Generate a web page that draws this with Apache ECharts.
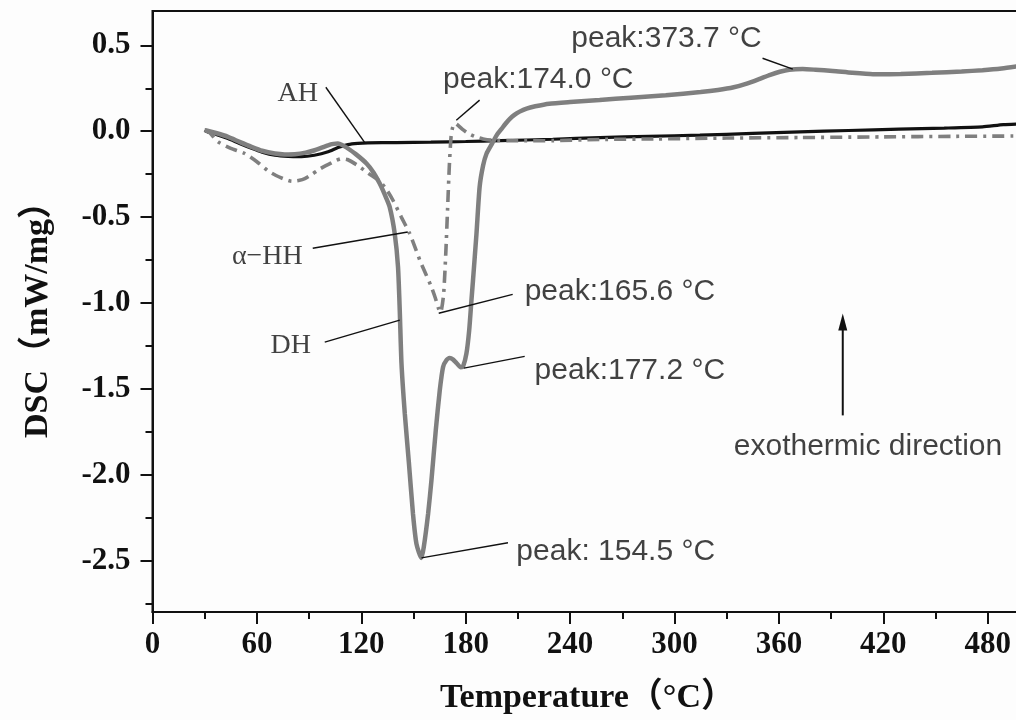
<!DOCTYPE html>
<html>
<head>
<meta charset="utf-8">
<script src="https://cdn.jsdelivr.net/npm/echarts@6/dist/echarts.min.js"></script>
<style>
  html, body { margin: 0; padding: 0; background: #fdfdfd; }
  #chart { width: 1016px; height: 720px; }
</style>
</head>
<body>
<div id="chart"></div>
<script>
// Axis ticks: temperature (°C) and heat flow (mW/mg)
const tempTicks = [0, 60, 120, 180, 240, 300, 360, 420, 480];
const tempMinorTicks = [30, 90, 150, 210, 270, 330, 390, 450];
const dscTicks = [-2.5, -2.0, -1.5, -1.0, -0.5, 0.0, 0.5];
const dscMinorTicks = [-2.75, -2.25, -1.75, -1.25, -0.75, -0.25, 0.25];

// DSC curves: [temperature °C, heat flow mW/mg]
const ahCurve = [
  [30, 0.005], [31, -0.002], [37, -0.02], [43.4, -0.043], [50, -0.072], [56.9, -0.1],
  [63, -0.122], [70.3, -0.14], [78, -0.147], [85.6, -0.148], [93, -0.14], [100.9, -0.12],
  [106.6, -0.095], [112.3, -0.078], [118, -0.071], [123.8, -0.068], [140, -0.066],
  [160, -0.064], [180, -0.06], [200, -0.055], [230, -0.047], [257, -0.037], [285, -0.03],
  [314.6, -0.023], [345, -0.013], [372, -0.004], [400, 0.004], [429, 0.012], [455, 0.018],
  [477, 0.025], [489, 0.038], [500, 0.042]
];
const alphaHHCurve = [
  [30, 0.008], [33, -0.01], [37.7, -0.062], [45, -0.1], [53, -0.13], [60, -0.178],
  [66.4, -0.231], [71, -0.258], [76, -0.28], [80, -0.292], [84.5, -0.286], [87.5, -0.276],
  [91, -0.255], [95.1, -0.227], [98.8, -0.205], [102.8, -0.185], [105.5, -0.17],
  [108.6, -0.16], [112, -0.165], [118, -0.2], [124, -0.245], [130.6, -0.29], [134.5, -0.34],
  [138.2, -0.402], [143, -0.5], [147.8, -0.596], [151, -0.68], [154, -0.76], [157, -0.83],
  [160, -0.9], [162.5, -0.97], [164.3, -1.03], [165.6, -1.055], [167.3, -0.95],
  [168.6, -0.7], [169.6, -0.45], [170.6, -0.2], [171.6, -0.03], [172.6, 0.025],
  [174.0, 0.045], [175.5, 0.035], [178, 0.012], [181, -0.01], [185, -0.03], [190, -0.045],
  [195, -0.052], [210, -0.056], [230, -0.055], [257, -0.048], [290, -0.045], [330, -0.04],
  [372, -0.037], [420, -0.033], [460, -0.03], [500, -0.028]
];
const dhCurve = [
  [30, 0.005], [31, 0.004], [37, -0.012], [43.4, -0.033], [50, -0.062], [56.9, -0.091],
  [63, -0.114], [70.3, -0.13], [76, -0.135], [81.8, -0.134], [88, -0.125], [93.2, -0.111],
  [100.9, -0.082], [104, -0.074], [106.6, -0.072], [109, -0.08], [111.5, -0.095],
  [117, -0.135], [123, -0.188], [127, -0.24], [130.6, -0.305], [133.5, -0.37],
  [136.3, -0.441], [139.2, -0.596], [141.1, -0.79], [142.1, -1.043], [143.1, -1.354],
  [145, -1.645], [147.4, -1.937], [149.7, -2.228], [151.7, -2.403], [154.5, -2.485],
  [155.9, -2.422], [158.4, -2.228], [160.3, -2.034], [162.8, -1.742], [165.1, -1.509],
  [167, -1.373], [168.9, -1.334], [170.8, -1.321], [172.8, -1.33], [174.7, -1.35],
  [177.2, -1.375], [178.5, -1.37], [180.4, -1.296], [182, -1.16], [183.3, -0.985],
  [184.2, -0.868], [186.2, -0.596], [188, -0.325], [190, -0.2], [192, -0.13],
  [195, -0.075], [198, -0.02], [200.5, 0.012], [203, 0.045], [205.5, 0.073], [208, 0.095],
  [211, 0.114], [215, 0.132], [220, 0.145], [228, 0.16], [240, 0.17], [257, 0.182],
  [275, 0.195], [295, 0.21], [315, 0.228], [325, 0.24], [334, 0.256], [342, 0.279],
  [349, 0.305], [355, 0.328], [360.5, 0.346], [366, 0.358], [373.7, 0.362], [381, 0.358],
  [391, 0.351], [402, 0.34], [414, 0.332], [430, 0.333], [448, 0.34], [465, 0.348],
  [477, 0.355], [488, 0.365], [500, 0.382]
];

// Peak temperatures written beside the curves
const peakTemps = [174.0, 373.7, 165.6, 177.2, 154.5];
const peakTexts = ['peak:174.0 °C', 'peak:373.7 °C', 'peak:165.6 °C', 'peak:177.2 °C', 'peak: 154.5 °C'];
const curveNames = ['AH', 'α−HH', 'DH'];

const SERIF = "'Liberation Serif', 'Times New Roman', 'Noto Sans CJK SC', serif";
const SANS = "'Liberation Sans', Arial, sans-serif";
const INK = '#111';
const GREY = '#7f7f7f';

// Label placements in data space: [temperature, value]
const textItems = [
  { text: curveNames[0], at: [83.5, 0.221], font: SERIF, size: 28, align: 'center' },
  { text: curveNames[1], at: [66, -0.733], font: SERIF, size: 28, align: 'center' },
  { text: curveNames[2], at: [79.5, -1.247], font: SERIF, size: 28, align: 'center' },
  { text: peakTexts[0], at: [167, 0.297], font: SANS, size: 30, align: 'left' },
  { text: peakTexts[1], at: [240.7, 0.536], font: SANS, size: 30, align: 'left' },
  { text: peakTexts[2], at: [213.9, -0.936], font: SANS, size: 30, align: 'left' },
  { text: peakTexts[3], at: [219.6, -1.393], font: SANS, size: 30, align: 'left' },
  { text: peakTexts[4], at: [209.1, -2.448], font: SANS, size: 30, align: 'left' },
  { text: 'exothermic direction', at: [411.2, -1.836], font: SANS, size: 30, align: 'center' }
];

// Leader lines from each label to its curve
const leaders = [
  [[99.6, 0.256], [122, -0.066]],
  [[92.1, -0.682], [146.7, -0.587]],
  [[99, -1.228], [142.1, -1.1]],
  [[188, 0.181], [peakTemps[0] + 0.6, 0.064]],
  [[350.6, 0.425], [368, 0.362]],
  [[207, -0.95], [peakTemps[2] - 1.1, -1.06]],
  [[213.9, -1.311], [peakTemps[3] + 1.8, -1.38]],
  [[204.3, -2.397], [peakTemps[4] + 0.1, -2.485]]
];

// Exothermic direction arrow: tail and tip
const arrow = [[396.7, -1.655], [396.7, -1.062]];

const chart = echarts.init(document.getElementById('chart'), null, { renderer: 'canvas' });

const tickLabelStyle = { fontFamily: SERIF, fontWeight: 'bold', fontSize: 31, color: INK };
const axisLine = { show: true, onZero: false, lineStyle: { color: INK, width: 2 } };
const noLine = { show: false, onZero: false };

const option = {
  backgroundColor: '#fdfdfd',
  animation: false,
  grid: {
    left: 152.5, top: 11, width: 870, height: 601,
    containLabel: false, outerBoundsMode: 'none',
    show: true, borderColor: INK, borderWidth: 2, backgroundColor: 'transparent'
  },
  xAxis: [
    {
      type: 'value', min: 0, max: 500, position: 'bottom',
      name: 'Temperature（°C）', nameLocation: 'middle', nameGap: 69,
      nameTextStyle: { fontFamily: SERIF, fontWeight: 'bold', fontSize: 34, color: INK },
      axisLine: axisLine,
      axisTick: { show: true, customValues: tempTicks, length: 12, lineStyle: { color: INK, width: 2 } },
      axisLabel: { show: true, customValues: tempTicks, margin: 17, ...tickLabelStyle },
      splitLine: { show: false }
    },
    {
      type: 'value', min: 0, max: 500, position: 'bottom', gridIndex: 0,
      axisLine: noLine,
      axisTick: { show: true, customValues: tempMinorTicks, length: 7, lineStyle: { color: INK, width: 2 } },
      axisLabel: { show: false },
      splitLine: { show: false }
    }
  ],
  yAxis: [
    {
      type: 'value', min: -2.8, max: 0.7, position: 'left',
      name: 'DSC（mW/mg）', nameLocation: 'middle', nameGap: 97, nameRotate: 90,
      nameTextStyle: { fontFamily: SERIF, fontWeight: 'bold', fontSize: 34, color: INK },
      axisLine: axisLine,
      axisTick: { show: true, customValues: dscTicks, length: 12, lineStyle: { color: INK, width: 2 } },
      axisLabel: {
        show: true, customValues: dscTicks, margin: 22, ...tickLabelStyle,
        formatter: v => v.toFixed(1)
      },
      splitLine: { show: false }
    },
    {
      type: 'value', min: -2.8, max: 0.7, position: 'left', gridIndex: 0,
      axisLine: noLine,
      axisTick: { show: true, customValues: dscMinorTicks, length: 7, lineStyle: { color: INK, width: 2 } },
      axisLabel: { show: false },
      splitLine: { show: false }
    }
  ],
  series: [
    {
      name: curveNames[0], type: 'line', data: ahCurve, showSymbol: false, smooth: 0.2,
      lineStyle: { color: INK, width: 3.2 }, z: 2
    },
    {
      name: curveNames[1], type: 'line', data: alphaHHCurve, showSymbol: false, smooth: 0.2,
      lineStyle: { color: GREY, width: 3.6, type: [12, 6, 3, 6] }, z: 3
    },
    {
      name: curveNames[2], type: 'line', data: dhCurve, showSymbol: false, smooth: 0.2,
      lineStyle: { color: GREY, width: 4.5 }, z: 4
    },
    {
      type: 'lines', coordinateSystem: 'cartesian2d', silent: true, z: 5,
      lineStyle: { color: INK, width: 1.4, opacity: 1 },
      data: leaders.map(c => ({ coords: c }))
    },
    {
      type: 'custom', coordinateSystem: 'cartesian2d', silent: true, z: 5,
      data: [arrow[0].concat(arrow[1])],
      renderItem: (params, api) => {
        const a = api.coord([api.value(0), api.value(1)]);
        const b = api.coord([api.value(2), api.value(3)]);
        const headLen = 17, headHalf = 4.5;
        return {
          type: 'group',
          children: [
            { type: 'line', shape: { x1: a[0], y1: a[1], x2: b[0], y2: b[1] + headLen - 2 },
              style: { stroke: INK, lineWidth: 2 } },
            { type: 'polygon',
              shape: { points: [[b[0], b[1]], [b[0] - headHalf, b[1] + headLen], [b[0] + headHalf, b[1] + headLen]] },
              style: { fill: INK } }
          ]
        };
      }
    },
    {
      type: 'scatter', symbolSize: 0, silent: true, z: 6,
      data: textItems.map(t => ({
        value: t.at,
        label: {
          show: true, position: [0, 0], formatter: t.text, align: t.align, verticalAlign: 'middle',
          fontFamily: t.font, fontSize: t.size, color: INK
        }
      }))
    }
  ]
};

chart.setOption(option);
</script>
</body>
</html>
